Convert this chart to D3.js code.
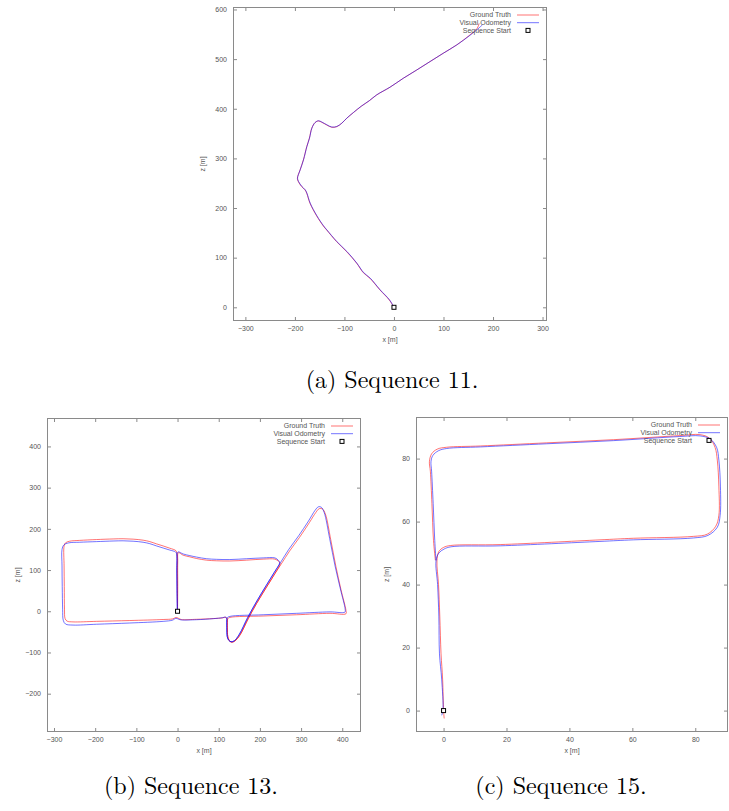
<!DOCTYPE html>
<html>
<head>
<meta charset="utf-8">
<script src="https://cdn.jsdelivr.net/npm/d3@7/dist/d3.min.js"></script>
<style>
  html, body { margin: 0; padding: 0; background: #fff; }
  svg { display: block; }
</style>
</head>
<body>
<svg id="chart" width="729" height="811"></svg>
<script>
// ---------------- DATA ----------------
const legendLabels = ["Ground Truth", "Visual Odometry", "Sequence Start"];
const captions = ["(a) Sequence 11.", "(b) Sequence 13.", "(c) Sequence 15."];
const xAxisTitle = "x [m]";
const zAxisTitle = "z [m]";

// Sequence 11
const seq11XTicks = [-300, -200, -100, 0, 100, 200, 300];
const seq11ZTicks = [0, 100, 200, 300, 400, 500, 600];
const seq11Start = [0, 0];
const seq11GroundTruth = [[0,0],[-9.4,14.7],[-28.2,34.9],[-48.4,58.4],[-61.9,69.7],[-75.2,88.7],[-95.4,112],[-115.6,132],[-135.8,155.7],[-142.6,163.8],[-156,184],[-169.5,209.5],[-176.1,229.7],[-179.5,236.4],[-186.2,243],[-193,253],[-195,260],[-189.6,276.6],[-182.9,296.8],[-176.1,323.6],[-170.8,340.5],[-166,360.7],[-159.4,372],[-152.6,375.4],[-145.9,372.8],[-135.8,367.3],[-125.7,362.7],[-115.6,363.9],[-105.5,370.7],[-95.4,380.8],[-82.1,392.1],[-66,405],[-50,416],[-35,427.8],[-8.1,443.3],[18.8,461.4],[45.8,478],[72.6,494.9],[99.5,511.8],[126.5,528.5],[153.3,548.7],[168,562],[172,572]];
const seq11VisualOdometry = [[0,0],[-9,15],[-28,35.3],[-48,58.8],[-61.5,70.2],[-75,89],[-95,112.5],[-115.3,132.4],[-135.5,156],[-142.3,164.3],[-155.7,184.5],[-169.2,210],[-175.8,230],[-179.2,236.8],[-186,243.5],[-192.7,253.5],[-194.7,260.3],[-189.3,277],[-182.6,297.2],[-175.8,324],[-170.5,341],[-165.7,361],[-159.1,372.4],[-152.3,375.8],[-145.6,373.2],[-135.5,367.7],[-125.4,363.1],[-115.3,364.3],[-105.2,371.1],[-95.1,381.2],[-81.8,392.5],[-65.7,405.4],[-49.7,416.3],[-34.7,428.1],[-7.8,443.6],[19.1,461.6],[46.1,478.2],[72.9,495.1],[99.8,512],[126.8,528.6],[153.8,548.2],[172,563],[179,569.5]];

// Sequence 13
const seq13XTicks = [-300, -200, -100, 0, 100, 200, 300, 400];
const seq13ZTicks = [-200, -100, 0, 100, 200, 300, 400];
const seq13Start = [0, 0];
const seq13GroundTruth = [[0,0],[-0.5,50],[-1,100],[-1.5,140],[-4,147],[-18.7,153],[-35,158.5],[-51,163.5],[-67.3,169],[-83.6,172.5],[-107.9,175],[-132.2,176],[-156.5,175.5],[-196.9,174],[-237.5,172],[-262,170],[-272,166],[-275.5,158],[-275.5,110],[-275,60],[-274.5,5],[-273,-18],[-268,-24],[-253.8,-25.8],[-196.9,-24.5],[-116,-22.5],[-35,-20],[-12,-18.5],[-3,-15],[3,-17.5],[9,-20],[46.2,-19.5],[86.5,-17.7],[110,-16],[115,-14.5],[120,-17],[121,-40],[122,-61],[125.5,-71],[131.3,-75],[139.3,-72],[151.4,-58],[171.6,-18],[192,19],[216.3,59],[236.5,91.5],[252,115],[272,146],[296,179],[320,215],[336,240],[344,249],[352,248],[359,236],[372,174],[384.5,109],[397,52],[409,2],[409,-6],[370.2,-5],[289.3,-8.5],[208,-11.5],[127.1,-15],[122,-18],[121,-40],[122,-61],[125.5,-71],[131.3,-75],[139.3,-72],[151.4,-58],[171.6,-18],[192,19],[216.3,59],[236.5,91.5],[249,116],[245,121.5],[236.5,126.5],[208,126.5],[167.7,124],[127,122],[94.8,122.5],[70.5,124],[46.2,128],[29.9,132],[13.7,136],[2,142],[0.5,120],[0.5,60],[0,2]];
const seq13VisualOdometry = [[0,0],[-1.5,50],[-2,100],[-2.5,140],[-5,144],[-18.7,148.5],[-35,153.5],[-51,158.5],[-67.3,164],[-83.6,167.5],[-107.9,170],[-132.2,171],[-156.5,170.5],[-196.9,169],[-237.5,167.5],[-264,166],[-276,161],[-280.5,150],[-280.5,110],[-280,60],[-279,5],[-277.5,-22],[-272,-31],[-253.8,-33.5],[-196.9,-31.5],[-116,-28.5],[-35,-24.5],[-12,-21.5],[-4,-17],[3,-19.5],[9,-21],[46.2,-20.5],[86.5,-18],[110,-15.5],[116,-14],[119,-16],[119.5,-40],[120.5,-61],[124,-70],[130,-74],[138,-71.5],[150,-56],[170.5,-15],[191,22],[215,62],[235,94.5],[250,118],[270,150],[294,183],[318,219],[334,245],[342,253.5],[349,252.5],[356,240],[369.5,176],[382.5,110],[395.5,54],[407,5],[406.5,-2],[370.2,-1.5],[289.3,-5],[208,-8.5],[127.1,-12.5],[120.5,-16],[119.5,-40],[120.5,-61],[124,-70],[130,-74],[138,-71.5],[150,-56],[170.5,-15],[191,22],[215,62],[235,94.5],[248,118],[244,124.5],[236.5,129.5],[208,129.5],[167.7,127.5],[127,125.5],[94.8,126],[70.5,127.5],[46.2,131.5],[29.9,135],[13.7,139],[1,144],[-1,120],[-1,60],[-1,-3]];

// Sequence 15
const seq15XTicks = [0, 20, 40, 60, 80];
const seq15ZTicks = [0, 20, 40, 60, 80];
const seq15Start = [0, 0];
const seq15GroundTruth = [[0.2,-2.5],[0,0],[-0.3,10],[-0.8,18],[-1.2,30],[-1.6,40],[-2.1,47.5],[-1.5,50.5],[0,51.8],[2.2,52.4],[18,52.7],[49.7,54.2],[60.3,54.7],[79.4,55.3],[83.8,56],[86.5,58.5],[87.5,62],[87.5,71],[87,79.5],[86.3,83.5],[84.5,86.5],[81.5,87.6],[75.1,87.3],[54,86],[32.8,85],[11.7,84],[1,83.6],[-2,83],[-3.8,81.5],[-4.5,79],[-4.2,76],[-3.7,65.7],[-3.2,54],[-2.6,47.7]];
const seq15VisualOdometry = [[-0.6,-1.5],[-0.2,0],[-0.6,10],[-1.3,18],[-1.5,30],[-1.9,40],[-2.4,47.5],[-1.5,50],[0.2,51.3],[2.4,52],[18,52.3],[49.7,53.7],[60.3,54.2],[79.4,54.8],[84,55.6],[87,58.2],[87.9,62],[88,71],[87.5,79.5],[86.8,83.5],[84.8,86.2],[81.5,87.2],[75.1,87],[54,85.7],[32.8,84.7],[11.7,83.7],[1,83.2],[-1.6,82.5],[-3.4,81],[-4,79],[-3.8,76],[-3.3,65.7],[-2.8,54],[-2.4,47.7]];

// ---------------- LAYOUT ----------------
const panels = [
  { gt: seq11GroundTruth, vo: seq11VisualOdometry, start: seq11Start, xt: seq11XTicks, zt: seq11ZTicks,
    xDom: [-325, 309], zDom: [-27.6, 605], left: 233, right: 547, top: 7, bottom: 321,
    zTitleX: 203, caption: captions[0], capX: 392, capY: 388 },
  { gt: seq13GroundTruth, vo: seq13VisualOdometry, start: seq13Start, xt: seq13XTicks, zt: seq13ZTicks,
    xDom: [-317, 445.5], zDom: [-293, 469], left: 47, right: 361, top: 418, bottom: 732,
    zTitleX: 18, caption: captions[1], capX: 191, capY: 794 },
  { gt: seq15GroundTruth, vo: seq15VisualOdometry, start: seq15Start, xt: seq15XTicks, zt: seq15ZTicks,
    xDom: [-8.76, 90.4], zDom: [-6.8, 93.2], left: 416, right: 728, top: 417, bottom: 732,
    zTitleX: 387, caption: captions[2], capX: 561, capY: 794 }
];

const svg = d3.select("#chart");
const FONT = "'Liberation Sans', Arial, sans-serif";
const TXT = "#555";
const AX = "#8a8a8a";

panels.forEach(p => {
  const x = d3.scaleLinear().domain(p.xDom).range([p.left, p.right]);
  const y = d3.scaleLinear().domain(p.zDom).range([p.bottom, p.top]);
  const g = svg.append("g").style("color", TXT);

  const cid = "clip" + p.left;
  svg.append("clipPath").attr("id", cid).append("rect")
    .attr("x", p.left).attr("y", p.top).attr("width", p.right - p.left).attr("height", p.bottom - p.top);

  const styleAxis = sel => {
    sel.select(".domain").remove();
    sel.selectAll(".tick line").attr("stroke", AX);
    sel.selectAll(".tick text").attr("fill", TXT).style("font-family", FONT).style("font-size", "7px");
  };

  g.append("g").attr("transform", `translate(0,${p.bottom})`)
    .call(d3.axisBottom(x).tickValues(p.xt).tickSizeInner(-4).tickSizeOuter(0).tickPadding(5).tickFormat(d3.format("d")))
    .call(styleAxis);
  g.append("g").attr("transform", `translate(0,${p.top})`)
    .call(d3.axisTop(x).tickValues(p.xt).tickSizeInner(-4).tickSizeOuter(0).tickFormat(""))
    .call(styleAxis);
  g.append("g").attr("transform", `translate(${p.left},0)`)
    .call(d3.axisLeft(y).tickValues(p.zt).tickSizeInner(-4).tickSizeOuter(0).tickPadding(6).tickFormat(d3.format("d")))
    .call(styleAxis);
  g.append("g").attr("transform", `translate(${p.right},0)`)
    .call(d3.axisRight(y).tickValues(p.zt).tickSizeInner(-4).tickSizeOuter(0).tickFormat(""))
    .call(styleAxis);

  g.append("rect").attr("x", p.left + 0.5).attr("y", p.top + 0.5)
    .attr("width", p.right - p.left - 1).attr("height", p.bottom - p.top - 1)
    .attr("fill", "none").attr("stroke", AX).attr("stroke-width", 1);

  g.append("text").attr("x", (p.left + p.right) / 2).attr("y", p.bottom + 21)
    .attr("text-anchor", "middle").attr("fill", TXT).style("font-family", FONT).style("font-size", "7px")
    .text(xAxisTitle);
  g.append("text").attr("transform", `translate(${p.zTitleX},${(p.top + p.bottom) / 2}) rotate(-90)`)
    .attr("text-anchor", "middle").attr("dy", "0.35em").attr("fill", TXT).style("font-family", FONT).style("font-size", "7px")
    .text(zAxisTitle);

  const line = d3.line().x(d => x(d[0])).y(d => y(d[1])).curve(d3.curveCatmullRom.alpha(0.5));
  const plot = g.append("g").attr("clip-path", `url(#${cid})`);
  plot.append("path").datum(p.gt).attr("d", line).attr("fill", "none")
    .attr("stroke", "#ff0000").attr("stroke-opacity", 0.55).attr("stroke-width", 1);
  plot.append("path").datum(p.vo).attr("d", line).attr("fill", "none")
    .attr("stroke", "#0000ff").attr("stroke-opacity", 0.55).attr("stroke-width", 1);
  plot.append("rect").attr("x", x(p.start[0]) - 2).attr("y", y(p.start[1]) - 2)
    .attr("width", 4).attr("height", 4).attr("fill", "#fff").attr("stroke", "#000").attr("stroke-width", 1);

  const lx = p.right - 36, ly = p.top + 8;
  const colors = ["#ff0000", "#0000ff"];
  legendLabels.forEach((lab, i) => {
    const yy = ly + i * 7.7;
    g.append("text").attr("x", lx).attr("y", yy).attr("dy", "0.35em").attr("text-anchor", "end")
      .attr("fill", TXT).style("font-family", FONT).style("font-size", "7px").text(lab);
    if (i < 2) {
      g.append("line").attr("x1", lx + 6).attr("x2", lx + 28).attr("y1", yy).attr("y2", yy)
        .attr("stroke", colors[i]).attr("stroke-opacity", 0.55).attr("stroke-width", 1);
    } else {
      g.append("rect").attr("x", lx + 15).attr("y", yy - 2).attr("width", 4).attr("height", 4)
        .attr("fill", "#fff").attr("stroke", "#000").attr("stroke-width", 1);
    }
  });

  svg.append("text").attr("x", p.capX).attr("y", p.capY).attr("text-anchor", "middle")
    .attr("fill", "#000").style("font-family", "'Latin Modern Roman', 'Liberation Serif', 'DejaVu Serif', serif")
    .style("font-size", "24px").text(p.caption);
});
</script>
</body>
</html>
